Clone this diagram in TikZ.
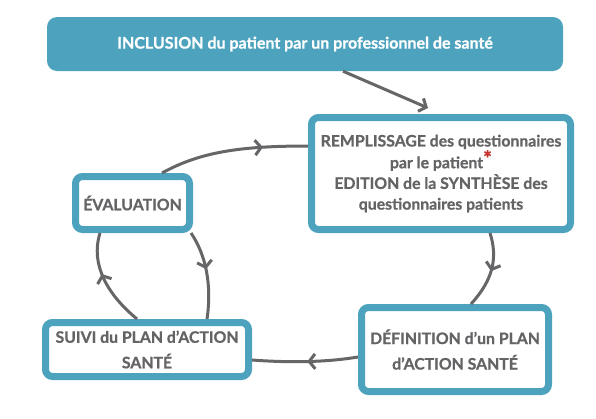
\documentclass[tikz,border=0pt]{standalone}
\usepackage{fontspec}
\setmainfont{Lato}[BoldFeatures={FakeBold=0.8}]
\usetikzlibrary{arrows.meta,decorations.markings}
\definecolor{teal}{RGB}{77,163,190}
\definecolor{txtgray}{RGB}{100,100,102}
\definecolor{lnggray}{RGB}{102,102,104}
\definecolor{astred}{RGB}{196,52,45}
\begin{document}
\begin{tikzpicture}[x=1pt,y=-1pt,
  box/.style={draw=teal,line width=7pt,rounded corners=7pt,fill=white,inner sep=0pt,
    align=center,text=txtgray,font=\fontsize{15.8}{20.7}\selectfont\bfseries},
  conn/.style={draw=lnggray,line width=3pt},
  barb/.style={-{Straight Barb[length=6pt,width=14pt,line width=3pt]}},
  midarrow/.style={postaction={decorate},decoration={markings,
    mark=at position #1 with {\arrow{Straight Barb[length=6pt,width=15pt,line width=3pt,color=lnggray]}}}}
]
\useasboundingbox (0,0) rectangle (596,418);
\node[fill=teal,rounded corners=10pt,minimum width=516pt,minimum height=54pt,inner sep=0pt,
  text=white,font=\fontsize{16}{18}\selectfont\bfseries] (top) at (305,44)
  {INCLUSION du patient par un professionnel de santé};
\node[box,minimum width=259pt,minimum height=112pt] (rempl) at (441,173.5)
  {REMPLISSAGE des questionnaires\\par le patient\textcolor{astred}{\fontsize{21}{21}\selectfont\raisebox{0.2ex}{*}}\\EDITION de la SYNTHÈSE des\\questionnaires patients};
\node[box,minimum width=114pt,minimum height=53pt] (eval) at (132.5,203) {ÉVALUATION};
\node[box,minimum width=203pt,minimum height=54pt,font=\fontsize{15.8}{25.5}\selectfont\bfseries] (suivi) at (147,349.5)
  {SUIVI du PLAN d’ACTION\\SANTÉ};
\node[box,minimum width=187pt,minimum height=84pt,font=\fontsize{15.8}{25.5}\selectfont\bfseries] (def) at (455,349.5)
  {DÉFINITION d’un PLAN\\d’ACTION SANTÉ};
% connectors
\draw[conn,barb] ([xshift=38pt]top.south) -- ([xshift=-13pt,yshift=6pt]rempl.north);
\path[conn,midarrow=0.7] ([xshift=29.5pt]eval.north) .. controls +(38,-21) and +(-68,0) .. ([yshift=27.5pt]rempl.west);
\path[conn,midarrow=0.5] ([xshift=49pt]rempl.south) .. controls +(8,25) and +(22,-24) .. ([xshift=16pt]def.north);
\path[conn,midarrow=0.48] ([yshift=-7.5pt]def.west) .. controls +(-30,5) and +(40,3) .. ([yshift=-10.5pt]suivi.east);
\path[conn,midarrow=0.58] ([xshift=-10pt]suivi.north) .. controls +(-29,-24) and +(-10,32) .. ([xshift=-32.5pt]eval.south);
\path[conn,midarrow=0.44] ([xshift=-2pt]eval.south east) .. controls +(15,22) and +(5,-34) .. ([xshift=60pt]suivi.north);
\end{tikzpicture}
\end{document}
